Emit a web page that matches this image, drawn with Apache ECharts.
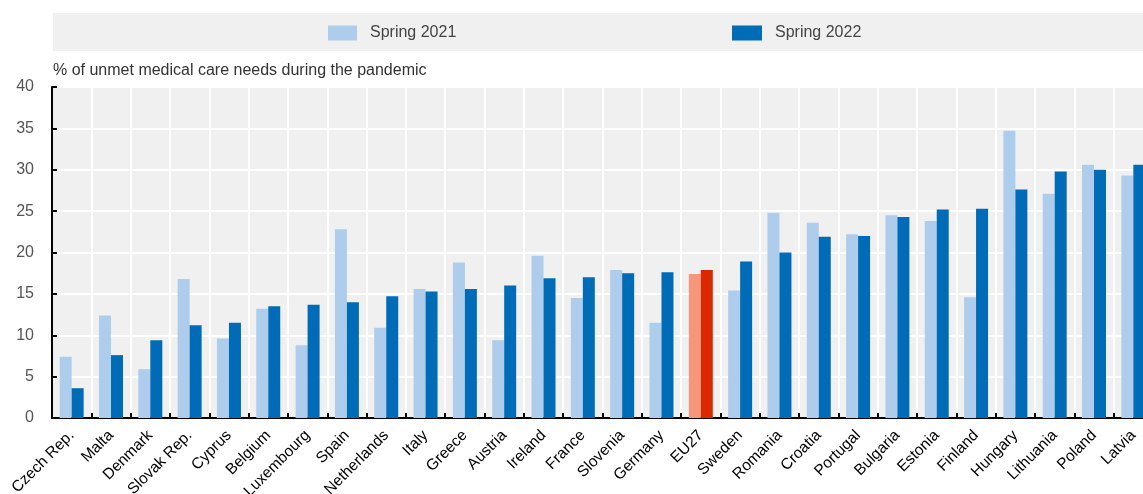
<!DOCTYPE html>
<html>
<head>
<meta charset="utf-8">
<script src="https://cdn.jsdelivr.net/npm/echarts@6/dist/echarts.min.js"></script>
<style>
html,body{margin:0;padding:0;background:#fff;}
#chart{width:1143px;height:494px;}
</style>
</head>
<body>
<div id="chart"></div>
<script>
const categories = ["Czech Rep.","Malta","Denmark","Slovak Rep.","Cyprus","Belgium","Luxembourg","Spain","Netherlands","Italy","Greece","Austria","Ireland","France","Slovenia","Germany","EU27","Sweden","Romania","Croatia","Portugal","Bulgaria","Estonia","Finland","Hungary","Lithuania","Poland","Latvia"];
const spring2021 = [7.4,12.4,5.9,16.8,9.6,13.2,8.8,22.8,10.9,15.6,18.8,9.4,19.6,14.5,17.9,11.5,17.4,15.4,24.8,23.6,22.2,24.5,23.8,14.6,34.7,27.1,30.6,29.3];
const spring2022 = [3.6,7.6,9.4,11.2,11.5,13.5,13.7,14.0,14.7,15.3,15.6,16.0,16.9,17.0,17.5,17.6,17.9,18.9,20.0,21.9,22.0,24.3,25.2,25.3,27.6,29.8,30.0,30.6];
const yTicks = [0,5,10,15,20,25,30,35,40];
const highlight = "EU27";

const FONT = '"Liberation Sans Narrow","Arial Narrow","Liberation Sans",sans-serif';
const C21 = '#aecdec', C22 = '#006bb6', H21 = '#f4977a', H22 = '#dc2800';

const d21 = spring2021.map((v,i)=> categories[i]===highlight ? {value:v,itemStyle:{color:H21}} : v);
const d22 = spring2022.map((v,i)=> categories[i]===highlight ? {value:v,itemStyle:{color:H22}} : v);

const legendText = {fontFamily:FONT,fontSize:16,color:'#444',padding:[0,0,0,8]};
const chart = echarts.init(document.getElementById('chart'), null, {renderer:'canvas'});
chart.setOption({
  animation:false,
  backgroundColor:'#ffffff',
  graphic:[
    {type:'rect', left:53, top:13, shape:{width:1090,height:38}, style:{fill:'#f0f0f0'}, z:-10},
    {type:'text', left:53, top:63, style:{text:'% of unmet medical care needs during the pandemic', font:'16px '+FONT, fill:'#333'}}
  ],
  legend:[
    {data:['Spring 2021'], left:323, top:20, itemWidth:29, itemHeight:15, icon:'rect', textStyle:legendText},
    {data:['Spring 2022'], left:727, top:20, itemWidth:30, itemHeight:15, icon:'rect', textStyle:legendText}
  ],
  grid:{left:52, top:87, width:1101, height:331, backgroundColor:'#f0f0f0', show:true, borderWidth:0, containLabel:false, outerBoundsMode:'none'},
  xAxis:{
    type:'category', data:categories, boundaryGap:true,
    axisLine:{lineStyle:{color:'#000',width:2}},
    axisTick:{show:true, inside:true, length:5, interval:0, lineStyle:{color:'#000',width:2}},
    splitLine:{show:true, interval:0, lineStyle:{color:'#ffffff',width:2}},
    axisLabel:{interval:0, rotate:45, fontFamily:FONT, fontSize:15.5, color:'#000', margin:15}
  },
  yAxis:{
    type:'value', min:yTicks[0], max:yTicks[yTicks.length-1], interval:5,
    axisLine:{show:true, lineStyle:{color:'#000',width:2}},
    axisTick:{show:true, inside:true, length:5, lineStyle:{color:'#000',width:2}},
    splitLine:{show:true, lineStyle:{color:'#ffffff',width:2}},
    axisLabel:{fontFamily:FONT, fontSize:16, color:'#555', margin:18}
  },
  series:[
    {name:'Spring 2021', type:'bar', data:d21, itemStyle:{color:C21}, barGap:'0%', barCategoryGap:'39%'},
    {name:'Spring 2022', type:'bar', data:d22, itemStyle:{color:C22}, barGap:'0%', barCategoryGap:'39%'}
  ]
});
</script>
</body>
</html>
